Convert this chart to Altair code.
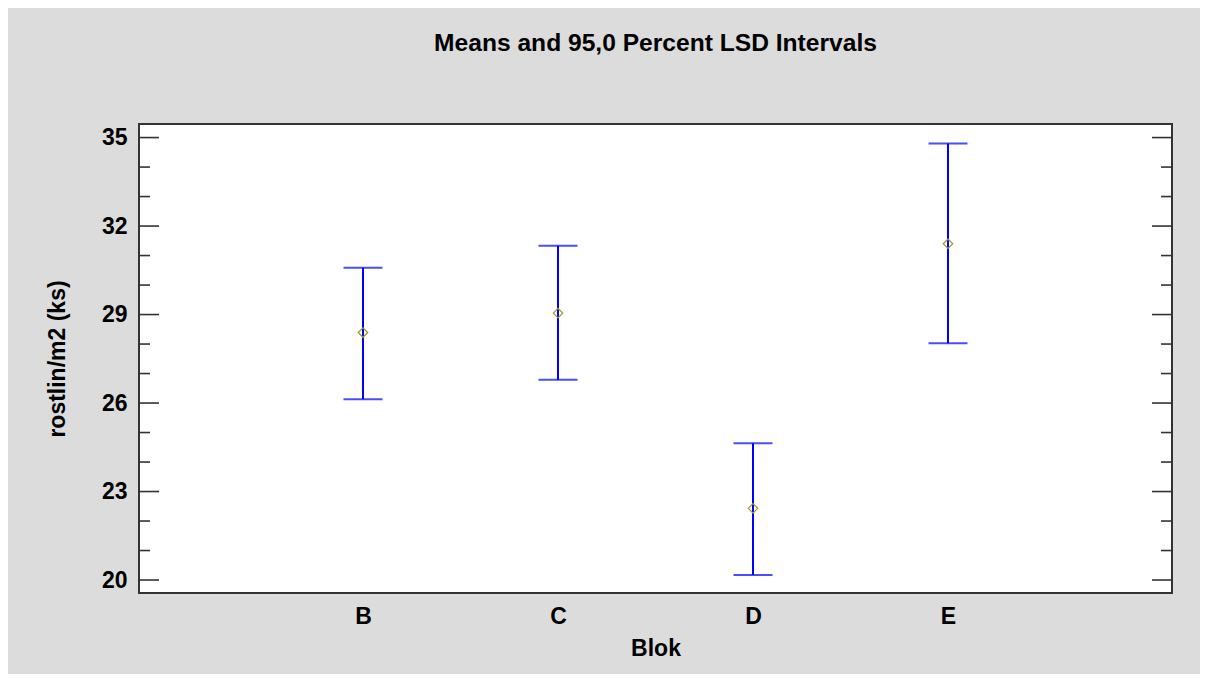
import altair as alt
import pandas as pd

bloks = ["B", "C", "D", "E"]
means = [28.39, 29.05, 22.43, 31.40]
lowers = [26.13, 26.79, 20.17, 28.03]
uppers = [30.59, 31.33, 24.64, 34.80]

major_ticks = [20, 23, 26, 29, 32, 35]
minor_ticks = [21, 22, 24, 25, 27, 28, 30, 31, 33, 34]

df = pd.DataFrame({"Blok": bloks, "mean": means, "lower": lowers, "upper": uppers})
df_major = pd.DataFrame({"v": major_ticks})
df_minor = pd.DataFrame({"v": minor_ticks})

W, H = 1033, 469
FONT = "Liberation Sans"
FS = 23

yscale = alt.Scale(domain=[19.56, 35.46], nice=False, zero=False)
xscale = alt.Scale(type="point", padding=1, range=[29, 1004])

x_axis = alt.Axis(title="Blok", labelAngle=0, ticks=False, domain=False,
                  tickSize=0, labelPadding=12, labelFontSize=FS,
                  labelFontWeight="bold", labelFont=FONT, labelColor="#000",
                  titleFontSize=FS, titleFontWeight="bold", titleFont=FONT,
                  titleColor="#000", titleY=55, titleBaseline="middle",
                  grid=False)

y_axis = alt.Axis(title="rostlin/m2 (ks)", values=major_ticks, ticks=False, tickSize=0,
                  domain=False, grid=False, labelPadding=12, labelFontSize=FS,
                  labelFontWeight="bold", labelFont=FONT, labelColor="#000",
                  titleFontSize=FS, titleFontWeight="bold", titleFont=FONT,
                  titleColor="#000", titleX=-82, titleY=H / 2, titleBaseline="middle",
                  titleAlign="center", titleAngle=270)


def tick_layer(d, x0, x1):
    return alt.Chart(d).mark_rule(color="#333333", strokeWidth=1.6).encode(
        y=alt.Y("v:Q", scale=yscale, axis=y_axis),
        x=alt.value(x0), x2=alt.value(x1),
    )


rule = alt.Chart(df).mark_rule(color="#0000ff", strokeWidth=2).encode(
    x=alt.X("Blok:N", scale=xscale, sort=bloks, axis=x_axis),
    y=alt.Y("lower:Q", scale=yscale, axis=y_axis),
    y2="upper:Q",
)
cap_lo = alt.Chart(df).mark_tick(color="#0000ff", orient="horizontal", size=39,
                                 thickness=2).encode(
    x=alt.X("Blok:N", scale=xscale, sort=bloks, axis=x_axis),
    y=alt.Y("lower:Q", scale=yscale, axis=y_axis),
)
cap_hi = alt.Chart(df).mark_tick(color="#0000ff", orient="horizontal", size=39,
                                 thickness=2).encode(
    x=alt.X("Blok:N", scale=xscale, sort=bloks, axis=x_axis),
    y=alt.Y("upper:Q", scale=yscale, axis=y_axis),
)
pts = alt.Chart(df).mark_point(shape="diamond", filled=False, color="#9c9a1e",
                               size=90, strokeWidth=1.2, opacity=1).encode(
    x=alt.X("Blok:N", scale=xscale, sort=bloks, axis=x_axis),
    y=alt.Y("mean:Q", scale=yscale, axis=y_axis),
)

ticks = [
    tick_layer(df_major, 0, 20), tick_layer(df_minor, 0, 11),
    tick_layer(df_major, W, W - 20), tick_layer(df_minor, W, W - 11),
]

chart = alt.layer(rule, cap_lo, cap_hi, pts, *ticks).properties(
    width=W, height=H,
    title=alt.Title("Means and 95,0 Percent LSD Intervals", fontSize=24.6,
                    fontWeight="bold", font=FONT, color="#000", offset=67,
                    anchor="middle"),
    autosize=alt.AutoSizeParams(type="none"),
    padding={"left": 131, "top": 116, "right": 28, "bottom": 81},
    background="#dcdcdc",
).configure_view(stroke="#333333", strokeWidth=2, fill="white")

chart.save("out.html", embed_options={"renderer": "svg", "actions": False})
